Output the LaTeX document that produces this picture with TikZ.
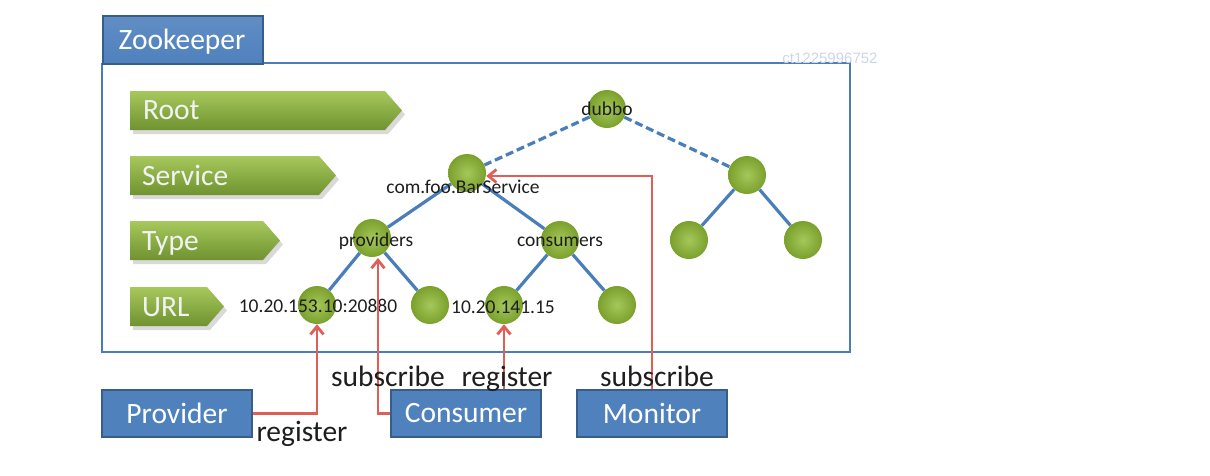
\documentclass[tikz,border=0pt]{standalone}
\usepackage{fontspec}
\setmainfont{Carlito}
\newfontfamily\wmfont{Liberation Sans}
\usetikzlibrary{arrows.meta,shadings}
\definecolor{boxblue}{RGB}{79,129,189}
\definecolor{boxborder}{RGB}{56,93,138}
\definecolor{lineblue}{RGB}{74,126,187}
\definecolor{gtop}{RGB}{166,200,92}
\definecolor{gbot}{RGB}{112,146,48}
\definecolor{cgreen}{RGB}{150,190,62}
\definecolor{cgreendark}{RGB}{122,160,44}
\definecolor{redarrow}{RGB}{222,95,88}
\definecolor{txtdark}{RGB}{30,30,30}
\definecolor{wm}{RGB}{205,214,230}
\tikzset{
  bigfont/.style={font=\fontsize{29.5}{32}\selectfont},
  smallfont/.style={font=\fontsize{19.5}{22}\selectfont},
  bluebox/.style={draw=boxborder, line width=2pt, fill=boxblue, text=white, bigfont,
    minimum width=150pt, minimum height=47pt, inner sep=0pt},
  levelshape/.style={top color=gtop, bottom color=gbot},
  levelshadow/.style={fill=black, opacity=0.15},
  leveltext/.style={bigfont, text=white!95!black, anchor=base west, inner sep=0pt},
  tnode/.style={circle, minimum size=38pt, inner sep=0pt},
  tlabel/.style={smallfont, text=txtdark, anchor=base, inner sep=0pt},
  edge/.style={draw=lineblue, line width=3.2pt},
  dedge/.style={draw=lineblue, line width=3.2pt, dash pattern=on 8pt off 4pt},
  redline/.style={draw=redarrow, line width=2.8pt, -{Straight Barb[length=8pt,width=13pt,line width=2.8pt]}},
  actlabel/.style={bigfont, text=txtdark, anchor=base, inner sep=0pt}
}
\begin{document}
\begin{tikzpicture}[x=1pt,y=-1pt]
\useasboundingbox (0,0) rectangle (1210,475);
\fill[white] (0,0) rectangle (1210,475);

% Zookeeper tab and main box
\draw[line width=2.8pt, draw=lineblue] (262,63) -- (850,63) -- (850,352) -- (102,352) -- (102,63);
\node[draw=boxborder, line width=2pt, top color=boxblue!90!white, bottom color=boxblue, text=white, bigfont,
  minimum width=160pt, minimum height=48pt, inner sep=0pt, anchor=north west] (zk) at (102,15) {};
\node[bigfont, text=white, anchor=base, inner sep=0pt] (zktext) at (182,49) {Zookeeper};

% watermark
\node[font=\wmfont\fontsize{15}{17}\selectfont, text=wm, inner sep=0pt] (wmark) at (830,58) {ct1225996752};

% level shapes
\foreach \ya/\xr in {91/402,156/336,221/280,287/224}{
  \fill[levelshadow] (133,\ya+4) -- (\xr-17+3,\ya+4) -- (\xr+3,\ya+19.5+4) -- (\xr-17+3,\ya+39+4) -- (133,\ya+39+4) -- cycle;
  \shade[levelshape] (130,\ya) -- (\xr-17,\ya) -- (\xr,\ya+19.5) -- (\xr-17,\ya+39) -- (130,\ya+39) -- cycle;
}
\node[leveltext] (lroot) at (143,119) {Root};
\node[leveltext] (lservice) at (142,185) {Service};
\node[leveltext] (ltype) at (142,250) {Type};
\node[leveltext] (lurl) at (142,316) {URL};

% tree nodes
\node[tnode] (dubbo) at (607,109) {};
\node[tnode] (bar) at (467,173) {};
\node[tnode] (srv2) at (747,175) {};
\node[tnode] (prov) at (372,238) {};
\node[tnode] (cons) at (560,240) {};
\node[tnode] (l1) at (689,240) {};
\node[tnode] (l2) at (803,240) {};
\node[tnode] (u1) at (317,305) {};
\node[tnode] (u2) at (430,305) {};
\node[tnode] (u3) at (504,305) {};
\node[tnode] (u4) at (617,305) {};

% edges
\path[dedge] (dubbo) -- (bar);
\path[dedge] (dubbo) -- (srv2);
\path[edge] (bar) -- (prov);
\path[edge] (bar) -- (cons);
\path[edge] (prov) -- (u1);
\path[edge] (prov) -- (u2);
\path[edge] (cons) -- (u3);
\path[edge] (cons) -- (u4);
\path[edge] (srv2) -- (l1);
\path[edge] (srv2) -- (l2);

% circles
\foreach \n in {dubbo,bar,srv2,prov,cons,l1,l2,u1,u2,u3,u4}{
  \shade[inner color=cgreen!85!white, outer color=cgreendark] (\n.center) circle (19pt);
}

% tree labels
\node[tlabel] (tdubbo) at (607,115) {dubbo};
\node[tlabel] (tbar) at (463,193) {com.foo.BarService};
\node[tlabel] (tprov) at (376,246) {providers};
\node[tlabel] (tcons) at (560,246) {consumers};
\node[tlabel] (tu1) at (318,312) {10.20.153.10:20880};
\node[tlabel] (tu3) at (503,313) {10.20.141.15};

% bottom boxes
\node[bluebox] (provider) at (177,413.5) {Provider};
\node[bluebox] (consumer) at (466,413.5) {Consumer};
\node[bluebox] (monitor) at (652,413.5) {Monitor};

% red arrows
\coordinate (subx) at (378,258);
\draw[redline] (provider.east) -| (u1.south);
\draw[redline] (consumer.west) -| (subx);
\draw[redline] (consumer.north -| u3.south) -- (u3.south);
\draw[redline] (monitor.north) |- ([yshift=-3pt]bar.east);

% action labels
\node[actlabel] (asub1) at (388,386) {subscribe};
\node[actlabel] (areg1) at (507,386) {register};
\node[actlabel] (asub2) at (657,386) {subscribe};
\node[actlabel] (areg2) at (302,441) {register};
\end{tikzpicture}
\end{document}
